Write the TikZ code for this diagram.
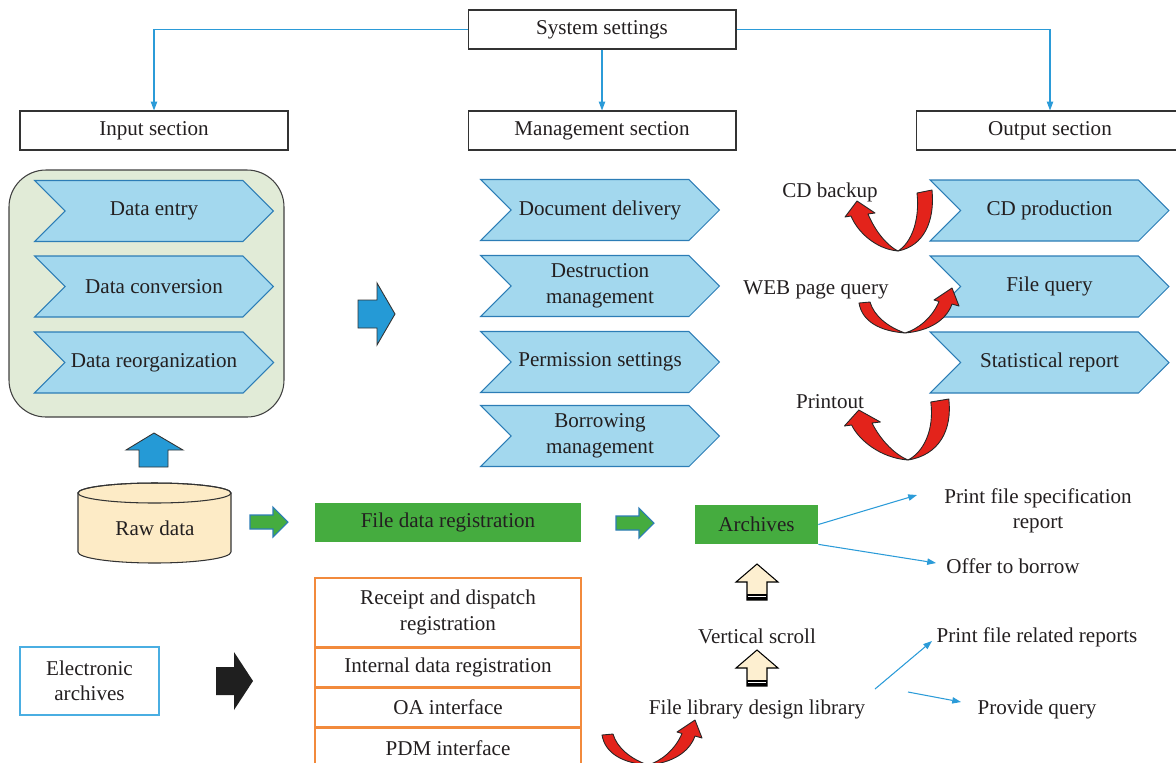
\documentclass[tikz,border=0pt]{standalone}
\usepackage{fontspec}
\setmainfont{Liberation Serif}
\usetikzlibrary{arrows.meta,shapes.symbols,positioning}

\definecolor{chevfill}{HTML}{A3D8EE}
\definecolor{chevline}{HTML}{2C7DB6}
\definecolor{panelgreen}{HTML}{E1EBD7}
\definecolor{linkblue}{HTML}{2B9BD8}
\definecolor{arrowblue}{HTML}{259AD6}
\definecolor{regreen}{HTML}{45AC3F}
\definecolor{taborange}{HTML}{F28A3C}
\definecolor{ribred}{HTML}{E3231B}
\definecolor{beige}{HTML}{FDEFD0}
\definecolor{cylfill}{HTML}{FDEBC6}
\definecolor{eframe}{HTML}{4AAEE2}
\definecolor{txt}{HTML}{231F20}

% twisted red arrows
\tikzset{
  ribbon/.pic={
    \filldraw[rib] (0,0) .. controls (26,-5) and (37,-30) .. (34,-61) -- (19,-58)
      .. controls (22,-30) and (13,-8) .. (0,0) -- cycle;
    \filldraw[rib] (0,0) .. controls (-23,-2) and (-41,-20) .. (-47,-35) -- (-53,-34)
      -- (-41,-50) -- (-23,-38) -- (-30,-37) .. controls (-22,-18) and (-10,-5) .. (0,0) -- cycle;
  },
  ribbon low/.pic={
    \filldraw[rib] (0,0) .. controls (-26,-2) and (-43,-12) .. (-46,-30) -- (-35,-31)
      .. controls (-31,-17) and (-17,-6) .. (0,0) -- cycle;
    \filldraw[rib] (0,0) .. controls (23,-2) and (41,-12) .. (47,-29) -- (54,-27)
      -- (47,-45) -- (29,-33) -- (34,-31.5) .. controls (27,-15) and (13,-4) .. (0,0) -- cycle;
  }
}

\begin{document}
\begin{tikzpicture}[
  x=0.02cm, y=-0.02cm, font=\fontsize{12pt}{14.5pt}\selectfont, text=txt,
  section/.style={draw=black!80, fill=white, line width=0.6pt, minimum width=5.36cm, minimum height=0.78cm},
  chev/.style={shape=signal, signal from=west, signal to=east, signal pointer angle=90,
               draw=chevline, fill=chevfill, line width=0.6pt,
               minimum width=4.78cm, minimum height=1.22cm, align=center},
  link/.style={draw=linkblue, line width=0.6pt, -{Triangle[length=5pt,width=3.6pt]}},
  regbox/.style={fill=regreen, minimum height=0.78cm},
  tabrow/.style={draw=taborange, line width=0.8pt, minimum width=5.32cm, align=center},
  blockarr/.style={fill=arrowblue, draw=black!80, line width=0.5pt},
  greenarr/.style={fill=regreen, draw=chevline, line width=0.6pt},
  beigearr/.style={fill=beige, draw=black, line width=0.6pt},
  rib/.style={fill=ribred, draw=black!85, line width=0.5pt, line join=round},
  note/.style={align=center}
]
\useasboundingbox (0,0) rectangle (1176,762);

% header boxes
\node[section] (sys)  at (602,29.5)  {System settings};
\node[section] (inp)  at (154,130.5) {Input section};
\node[section] (mgt)  at (602,130.5) {Management section};
\node[section] (outp) at (1050,130.5) {Output section};
\draw[link] (sys.west) -| (inp.north);
\draw[link] (sys.south) -- (mgt.north);
\draw[link] (sys.east) -| (outp.north);

% input panel
\draw[fill=panelgreen, draw=black!75, line width=0.6pt, rounded corners=0.74cm] (9,170) rectangle (284,417);
\node[chev] (entry) at (154,211)   {Data entry};
\node[chev] (conv)  at (154,286.5) {Data conversion};
\node[chev] (reorg) at (154,362.5) {Data reorganization};

% management
\node[chev] (deliv)  at (600,210) {Document delivery};
\node[chev] (destr)  at (600,286) {Destruction\\management};
\node[chev] (perm)   at (600,362) {Permission settings};
\node[chev] (borrow) at (600,436) {Borrowing\\management};

% output
\node[chev] (cdprod) at (1049.5,210.5) {CD production};
\node[chev] (fquery) at (1049.5,286.5) {File query};
\node[chev] (stat)   at (1049.5,362.5) {Statistical report};

\node[note] (cdback)   at (830,192) {CD backup};
\node[note] (webquery) at (816,290) {WEB page query};
\node[note] (printout) at (830,402) {Printout};
\pic at (898,251) {ribbon};
\pic at (905,333) {ribbon low};
\pic[xscale=1.2] at (908,460) {ribbon};

% block arrows
\filldraw[blockarr] (358,300) -- (377,300) -- (377,283) -- (395,314) -- (377,345) -- (377,328) -- (358,328) -- cycle;
\filldraw[blockarr] (139,467) -- (139,450) -- (126,450) -- (154,433) -- (183,450) -- (168,450) -- (168,467) -- cycle;

% raw data
\filldraw[fill=cylfill, draw=black!80, line width=0.6pt] (78,493) -- (78,552)
  arc[start angle=180, end angle=360, x radius=1.53cm, y radius=0.22cm] -- (231,493)
  arc[start angle=0, end angle=180, x radius=1.53cm, y radius=0.2cm] -- cycle;
\draw[draw=black!80, line width=0.6pt] (154.5,493) ellipse[x radius=1.53cm, y radius=0.2cm];
\node (raw) at (155,528) {Raw data};

\filldraw[greenarr] (250,515) -- (273,515) -- (273,507) -- (288,522) -- (273,537) -- (273,529) -- (250,529) -- cycle;
\node[regbox, minimum width=5.32cm] (freg) at (448,522.5) {File data registration};
\filldraw[greenarr] (616,516) -- (639,516) -- (639,508) -- (654,523) -- (639,538) -- (639,530) -- (616,530) -- cycle;
\node[regbox, minimum width=2.46cm] (arch) at (756.5,524.5) {Archives};

\node[note] (spec)  at (1038,511) {Print file specification\\report};
\node[note] (offer) at (1013,566) {Offer to borrow};
\coordinate (specend)  at (917,495);
\coordinate (offerend) at (936,563);
\draw[link] (arch.east) -- (specend);
\draw[link] (arch.south east) -- (offerend);

% electronic archives
\node[draw=eframe, line width=0.8pt, minimum width=2.78cm, minimum height=1.36cm, align=center] (earch) at (89.5,681) {Electronic\\archives};
\fill[black!88] (216,667) -- (234,667) -- (234,652) -- (253,681) -- (234,710) -- (234,695) -- (216,695) -- cycle;

\node[tabrow, minimum height=1.38cm] (rd) at (448,612.5) {Receipt and dispatch\\registration};
\node[tabrow, minimum height=0.76cm, below=0pt of rd] (idr) {Internal data registration};
\node[tabrow, minimum height=0.78cm, below=0pt of idr] (oa) {OA interface};
\node[tabrow, minimum height=0.78cm, below=0pt of oa] (pdm) {PDM interface};

% library and scroll
\filldraw[beigearr] (747,600) -- (747,582) -- (736,582) -- (757,564) -- (778,582) -- (767,582) -- (767,600) -- cycle;
\fill[black] (747,594) rectangle (767,600);
\draw[white, line width=0.5pt] (748,596.5) -- (766,596.5);
\node (vscroll) at (757,636) {Vertical scroll};
\filldraw[beigearr] (747,686) -- (747,668) -- (736,668) -- (757,650) -- (778,668) -- (767,668) -- (767,686) -- cycle;
\fill[black] (747,680) rectangle (767,686);
\draw[white, line width=0.5pt] (748,682.5) -- (766,682.5);
\node (flib) at (757,709) {File library design library};
\pic at (648,765) {ribbon low};

\node (relrep) at (1037,637) {Print file related reports};
\node (pquery) at (1037,709) {Provide query};
\coordinate (relstart) at (875,689);
\coordinate (relend)   at (932,641);
\coordinate (qstart)   at (908,692);
\coordinate (qend)     at (961,702);
\draw[link] (relstart) -- (relend);
\draw[link] (qstart) -- (qend);
\end{tikzpicture}
\end{document}
